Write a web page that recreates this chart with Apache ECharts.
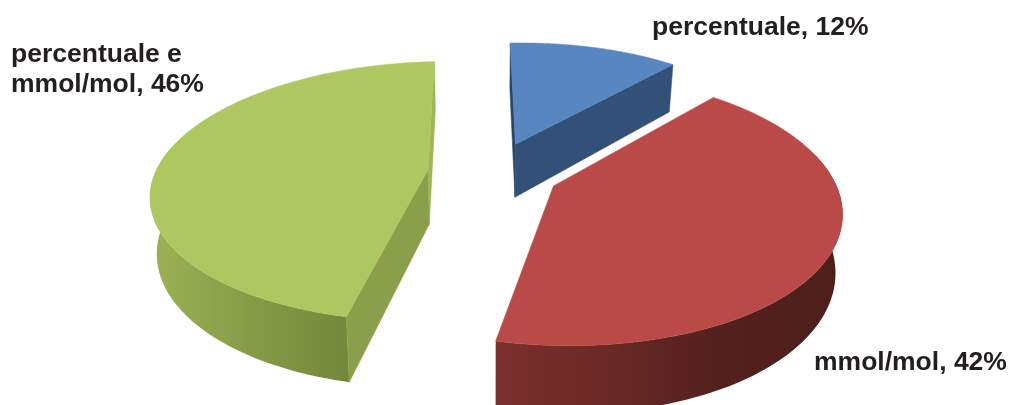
<!DOCTYPE html>
<html>
<head>
<meta charset="utf-8">
<style>html,body{margin:0;padding:0;background:#fff}#c{width:1012px;height:405px}</style>
<script src="https://cdn.jsdelivr.net/npm/echarts@6/dist/echarts.min.js"></script>
</head>
<body>
<div id="c"></div>
<script>
const categories = ["percentuale", "mmol/mol", "percentuale e\nmmol/mol"];
const shares = [12, 42, 46];

// Layout and style, separate from the data
const topColors = ["#5786c1", "#b94a48", "#aec861"];
const firstCutColors = ["#2b4466", "#5f2623", "#8b9f4a"];
const lastCutColors = ["#335178", "#5f2623", "#9db457"];
const wallStops = [
  [[0, "#335178"], [1, "#2b4466"]],
  [[0, "#7c302d"], [0.35, "#682825"], [0.65, "#52201d"], [1, "#4e1f1b"]],
  [[0, "#9cb254"], [0.5, "#869c47"], [1, "#74873b"]]
];
const labelAt = [[652, 28], [814, 363], [11, 70]];
const view = {cx: 490, cy: 172, a: 275, b: 127, k: 0.17, lean: 14, tilt: -5, explode: 0.24, depth: 55, shrink: 0.98};

function project(X, Y) {
  const w = 1 - view.k * Y;
  const l = view.lean * (Y + 1) * (Y + 1) / 4;
  return [view.cx + (view.a * X + l) / w, view.cy + (view.b * Y + view.tilt * X) / w, w];
}
function lower(p) {
  return [view.cx + (p[0] - view.cx) * view.shrink, p[1] + view.depth / p[2]];
}
const total = shares.reduce((s, v) => s + v, 0);

function renderItem(params, api) {
  const i = params.dataIndex;
  const before = shares.slice(0, i).reduce((s, v) => s + v, 0);
  const t0 = before / total * 2 * Math.PI;
  const t1 = (before + api.value(0)) / total * 2 * Math.PI;
  const mid = (t0 + t1) / 2;
  const ox = view.explode * Math.sin(mid), oy = -view.explode * Math.cos(mid);
  const rim = [];
  const steps = 120;
  for (let s = 0; s <= steps; s++) {
    const t = t0 + (t1 - t0) * s / steps;
    rim.push(project(ox + Math.sin(t), oy - Math.cos(t)));
  }
  const apex = project(ox, oy);
  const first = rim[0], last = rim[steps];
  const poly = (pts, fill, z2) => ({
    type: "polygon", z2,
    shape: {points: pts.map(p => [p[0], p[1]])},
    style: {fill, stroke: typeof fill === "string" ? fill : null, lineWidth: typeof fill === "string" ? 0.5 : 0}
  });
  const wallFill = {
    type: "linear", x: 0, y: 0, x2: 1, y2: 0,
    colorStops: wallStops[i].map(s => ({offset: s[0], color: s[1]}))
  };
  const front = rim.filter((p, n) => Math.cos(t0 + (t1 - t0) * n / steps) < 0.2);
  const children = [];
  if (front.length > 1) {
    children.push(poly(front.concat(front.slice().reverse().map(lower)), wallFill, 1));
  }
  // A cut face shows only when it turns towards the viewer
  if (first[0] - apex[0] < 0) {
    children.push(poly([apex, first, lower(first), lower(apex)], firstCutColors[i], 2));
  }
  if (last[0] - apex[0] > 0) {
    children.push(poly([apex, last, lower(last), lower(apex)], lastCutColors[i], 2));
  }
  children.push(poly([apex].concat(rim), topColors[i], 3));
  children.push({
    type: "text", z2: 5,
    style: {
      text: categories[i] + ", " + api.value(0) + "%",
      x: labelAt[i][0], y: labelAt[i][1],
      font: 'bold 26.5px "Liberation Sans"', lineHeight: 30,
      fill: "#231f20", textAlign: "left", textVerticalAlign: "middle"
    }
  });
  return {type: "group", children};
}

const chart = echarts.init(document.getElementById("c"), null, {renderer: "canvas"});
chart.setOption({
  backgroundColor: "#ffffff",
  animation: false,
  series: [{
    type: "custom",
    coordinateSystem: "none",
    silent: true,
    renderItem,
    data: shares.map((v, i) => ({name: categories[i], value: [v, i]}))
  }]
});
</script>
</body>
</html>
